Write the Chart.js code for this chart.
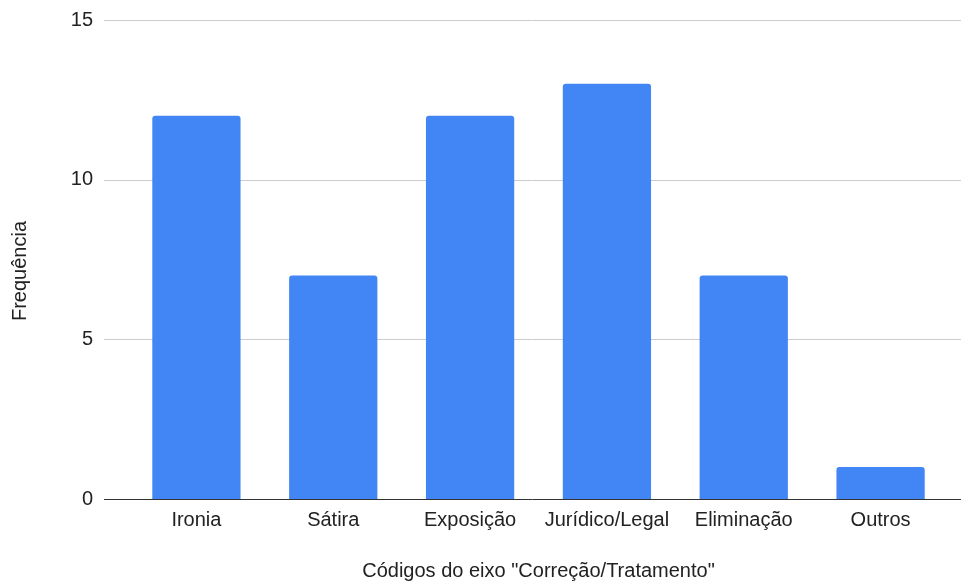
<!DOCTYPE html>
<html>
<head>
<meta charset="utf-8">
<script src="https://cdn.jsdelivr.net/npm/chart.js@4/dist/chart.umd.min.js"></script>
<style>
  html, body { margin: 0; padding: 0; background: #fff; }
  #wrap { width: 961px; height: 582px; position: relative; }
</style>
</head>
<body>
<div id="wrap"><canvas id="c" width="961" height="582"></canvas></div>
<script>
const categories = ["Ironia", "Sátira", "Exposição", "Jurídico/Legal", "Eliminação", "Outros"];
const frequencies = [12, 7, 12, 13, 7, 1];
const yTicks = [0, 5, 10, 15];
const xTitle = 'Códigos do eixo "Correção/Tratamento"';
const yTitle = 'Frequência';

const FONT = '"Liberation Sans", Arial, sans-serif';

// Horizontal grid lines that run past the plot area, with a dark baseline at zero
const gridPlugin = {
  id: 'wideGrid',
  beforeDatasetsDraw(chart) {
    const y = chart.scales.y;
    const ctx = chart.ctx;
    ctx.save();
    yTicks.forEach(v => {
      const py = Math.round(y.getPixelForValue(v)) + 0.5;
      ctx.beginPath();
      ctx.strokeStyle = v === 0 ? '#333333' : '#cccccc';
      ctx.lineWidth = 1;
      ctx.moveTo(104, py);
      ctx.lineTo(chart.width, py);
      ctx.stroke();
    });
    ctx.restore();
  }
};

// Rotated y-axis title, centred a little below the middle of the plot
const yTitlePlugin = {
  id: 'yTitle',
  afterDraw(chart) {
    const ctx = chart.ctx;
    ctx.save();
    ctx.translate(20, 271);
    ctx.rotate(-Math.PI / 2);
    ctx.font = '20px ' + FONT;
    ctx.fillStyle = '#222222';
    ctx.textAlign = 'center';
    ctx.textBaseline = 'middle';
    ctx.fillText(yTitle, 0, 0);
    ctx.restore();
  }
};

new Chart(document.getElementById('c'), {
  type: 'bar',
  data: {
    labels: categories,
    datasets: [{
      data: frequencies,
      backgroundColor: '#4285f4',
      borderRadius: { topLeft: 3, topRight: 3, bottomLeft: 0, bottomRight: 0 },
      borderSkipped: 'bottom',
      categoryPercentage: 0.645,
      barPercentage: 1
    }]
  },
  options: {
    responsive: false,
    animation: false,
    layout: { padding: { top: 20, right: 12, left: 0, bottom: 0 } },
    plugins: { legend: { display: false }, tooltip: { enabled: false } },
    scales: {
      x: {
        grid: { display: false, drawTicks: false },
        border: { display: false },
        ticks: { color: '#222222', font: { family: FONT, size: 20 }, padding: 9, maxRotation: 0, autoSkip: false },
        title: { display: true, text: xTitle, color: '#222222', font: { family: FONT, size: 20 }, padding: { top: 0, bottom: -1 } },
        afterFit(s) { s.height = 83; s.paddingLeft = 0; s.paddingRight = 0; }
      },
      y: {
        min: 0, max: 15,
        afterBuildTicks(s) { s.ticks = yTicks.map(v => ({ value: v })); },
        grid: { display: false, drawTicks: false },
        border: { display: false },
        ticks: { color: '#222222', font: { family: FONT, size: 20 }, padding: 35 },
        title: { display: false },
        afterFit(s) { s.width = 128; s.paddingTop = 0; s.paddingBottom = 0; }
      }
    }
  },
  plugins: [gridPlugin, yTitlePlugin]
});
</script>
</body>
</html>
